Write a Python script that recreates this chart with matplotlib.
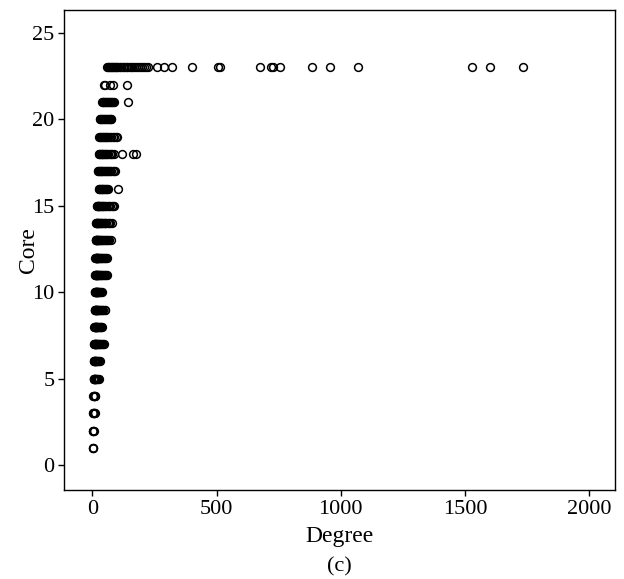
import numpy as np
import matplotlib.pyplot as plt

plt.rcParams["font.family"] = ["Liberation Serif", "DejaVu Serif"]

# degree values of the nodes, grouped by their core number
deg_c1 = [1, 2, 3]
deg_c2 = [2, 3, 4, 5]
deg_c3 = [3, 4, 5, 6, 8, 11]
deg_c4 = [4, 5, 6, 7, 9, 12]
deg_c5 = [5, 6, 7, 8, 9, 10, 12, 14, 16, 19, 22, 25]
deg_c6 = [6, 7, 8, 9, 10, 11, 12, 14, 16, 18, 20, 23, 26, 30]
deg_c7 = [7, 8, 9, 10, 11, 12, 13, 14, 16, 18, 20, 22, 25, 28, 31, 35, 39, 44, 48]
deg_c8 = [8, 9, 10, 11, 12, 13, 14, 15, 16, 18, 20, 22, 24, 27, 30, 33, 36, 40]
deg_c9 = [9, 10, 11, 12, 13, 14, 15, 16, 17, 18, 20, 22, 24, 26, 28, 31, 34,
          37, 40, 44, 49, 53]
deg_c10 = [10, 11, 12, 13, 14, 15, 16, 17, 18, 19, 20, 22, 24, 26, 28, 30, 33, 37]
deg_c11 = [11, 12, 13, 14, 15, 16, 17, 18, 20, 22, 24, 26, 28, 30, 33, 36, 39,
           42, 46, 50, 55, 61]
deg_c12 = [12, 13, 14, 15, 16, 17, 18, 19, 20, 22, 24, 26, 28, 30, 33, 36, 39,
           42, 46, 50, 54, 59]
deg_c13 = [13, 14, 15, 16, 17, 18, 20, 22, 24, 26, 28, 30, 33, 36, 39, 42, 46,
           50, 54, 58, 63, 68, 75]
deg_c14 = [15, 16, 17, 18, 20, 22, 24, 26, 28, 30, 33, 36, 39, 42, 45, 49, 53,
           57, 62, 67, 73, 78]
deg_c15 = [18, 20, 22, 24, 26, 28, 31, 34, 37, 40, 44, 48, 52, 57, 62, 67, 72,
           78, 83, 87]
deg_c16 = [25, 28, 31, 34, 37, 40, 44, 48, 52, 56, 60, 64, 105]
deg_c17 = [21, 24, 27, 30, 33, 36, 40, 44, 48, 52, 56, 60, 64, 68, 72, 77, 82,
           87, 91]
deg_c18 = [25, 28, 31, 34, 37, 40, 44, 48, 52, 56, 60, 65, 70, 75, 81, 87, 121,
           163, 176]
deg_c19 = [28, 31, 34, 38, 42, 46, 50, 55, 60, 65, 70, 76, 82, 88, 94, 100]
deg_c20 = [29, 32, 35, 38, 42, 46, 50, 54, 58, 62, 66, 70, 74, 77]
deg_c21 = [38, 41, 44, 48, 52, 56, 60, 64, 68, 72, 76, 80, 84, 87, 145]
deg_c22 = [47, 52, 71, 85, 139]
deg_c23 = [58, 62, 66, 70, 74, 78, 82, 86, 90, 95, 100, 105, 110, 116, 122,
           128, 134, 140, 147, 154, 161, 168, 176, 184, 192, 200, 208, 216,
           225, 259, 289, 320, 400, 505, 515, 675, 718, 727, 755, 884, 958,
           1068, 1528, 1601, 1733]

deg_by_core = [deg_c1, deg_c2, deg_c3, deg_c4, deg_c5, deg_c6, deg_c7, deg_c8,
               deg_c9, deg_c10, deg_c11, deg_c12, deg_c13, deg_c14, deg_c15,
               deg_c16, deg_c17, deg_c18, deg_c19, deg_c20, deg_c21, deg_c22,
               deg_c23]

x_ticks = [0, 500, 1000, 1500, 2000]
y_ticks = [0, 5, 10, 15, 20, 25]

degree = np.concatenate([np.array(d, dtype=float) for d in deg_by_core])
core = np.concatenate([np.full(len(d), k + 1) for k, d in enumerate(deg_by_core)])

fig = plt.figure(figsize=(6.24, 5.79), dpi=100)
ax = fig.add_axes([0.103, 0.153, 0.882, 0.829])

ax.plot(degree, core, linestyle="none", marker="o", ms=5.6,
        mfc="none", mec="black", mew=1.1)

ax.set_xlim(-113, 2103)
ax.set_ylim(-1.46, 26.3)
ax.set_xticks(x_ticks)
ax.set_yticks(y_ticks)

for side in ["top", "right", "left", "bottom"]:
    ax.spines[side].set_linewidth(1.0)
    ax.spines[side].set_color("black")

ax.tick_params(direction="out", length=4, width=1.0, labelsize=16, pad=3,
               top=False, right=False)

ax.set_xlabel("Degree", fontsize=17, labelpad=5)
ax.set_ylabel("Core", fontsize=17, labelpad=-5)

fig.text(0.544, 0.021, "(c)", ha="center", va="center", fontsize=16)

fig.savefig("out.png", dpi=100)
